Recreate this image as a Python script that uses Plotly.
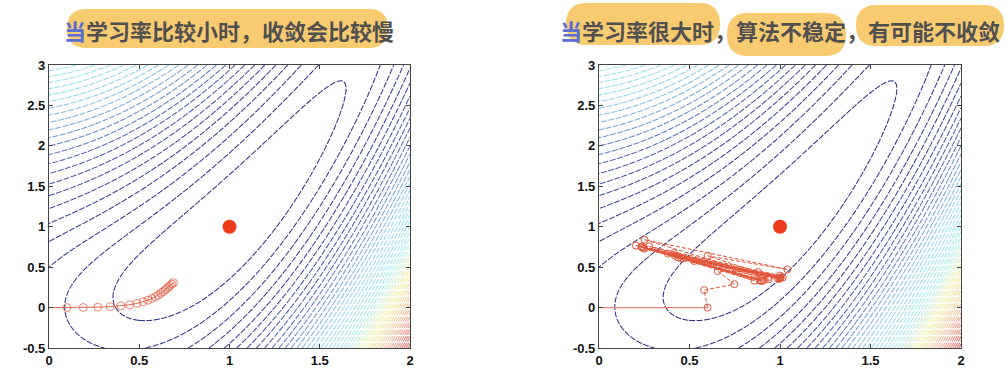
import numpy as np
import plotly.graph_objects as go

# ---------------- data ----------------
# objective f(x, y) = (A - x)^2 + B * (y - x^2)^2  (contour surface)
A_PARAM = 1.0
B_PARAM = 1.0
X_RANGE = [0.0, 2.0]
Y_RANGE = [-0.5, 3.0]
N_LEVELS = 50

minimum_x = [1.0]
minimum_y = [1.0]

# small learning rate path
slow_x = [0.0, 0.10, 0.19, 0.27, 0.339, 0.398, 0.447, 0.488, 0.521, 0.548, 0.570,
          0.589, 0.605, 0.619, 0.631, 0.643, 0.653, 0.663, 0.672, 0.681, 0.689]
slow_y = [0.0, 0.0, 0.001, 0.005, 0.011, 0.022, 0.035, 0.052, 0.071, 0.091, 0.112,
          0.133, 0.154, 0.176, 0.196, 0.217, 0.236, 0.255, 0.274, 0.292, 0.309]

# large learning rate path
fast_x = [0.0, 0.60, 0.581, 0.748, 0.656, 0.879, 0.600, 1.041, 0.252, 0.935, 0.413,
          1.015, 0.204, 0.859, 0.525, 0.999, 0.277, 0.937, 0.380, 0.990, 0.251,
          0.901, 0.438, 1.000, 0.236, 0.889, 0.467, 1.005, 0.235, 0.895, 0.455,
          1.002, 0.245, 0.910, 0.420, 0.995]
fast_y = [0.0, 0.0, 0.216, 0.289, 0.451, 0.439, 0.639, 0.472, 0.839, 0.374, 0.674,
          0.372, 0.767, 0.332, 0.576, 0.396, 0.757, 0.349, 0.666, 0.353, 0.729,
          0.329, 0.619, 0.363, 0.745, 0.332, 0.607, 0.374, 0.756, 0.335, 0.612,
          0.370, 0.740, 0.338, 0.640, 0.360]

x_ticks = [0, 0.5, 1, 1.5, 2]
x_tick_labels = ["0", "0.5", "1", "1.5", "2"]
y_ticks = [-0.5, 0, 0.5, 1, 1.5, 2, 2.5, 3]
y_tick_labels = ["-0.5", "0", "0.5", "1", "1.5", "2", "2.5", "3"]

title_left_first = "当"
title_left_rest = "学习率比较小时，收敛会比较慢"
title_right_first = "当"
title_right_rest = "学习率很大时，算法不稳定，有可能不收敛"

# ---------------- surface ----------------
gx = np.linspace(X_RANGE[0], X_RANGE[1], 401)
gy = np.linspace(Y_RANGE[0], Y_RANGE[1], 451)
XX, YY = np.meshgrid(gx, gy)
ZZ = (A_PARAM - XX) ** 2 + B_PARAM * (YY - XX ** 2) ** 2
zmin, zmax = float(ZZ.min()), float(ZZ.max())
step = (zmax - zmin) / (N_LEVELS + 1)

colorscale = [
    [0.0, "#2a2f80"],
    [0.08, "#343c8e"],
    [0.18, "#5262b0"],
    [0.27, "#78aadc"],
    [0.35, "#92d8ee"],
    [0.5, "#a0ecee"],
    [0.64, "#f4ee96"],
    [0.8, "#f3b89c"],
    [1.0, "#dc6464"],
]

W, H = 1007, 375
def px(xp):
    return xp / W
def py(yp):
    return 1 - yp / H

dom_left_x = [px(49), px(410)]
dom_right_x = [px(599), px(961)]
dom_y = [py(348), py(65)]

fig = go.Figure()

def add_panel(xa, ya, path_x, path_y, dashed):
    fig.add_trace(go.Contour(
        x=gx, y=gy, z=ZZ, xaxis=xa, yaxis=ya,
        zmin=zmin, zmax=zmax, colorscale=colorscale, showscale=False,
        contours=dict(start=zmin + step, end=zmin + N_LEVELS * step, size=step,
                      coloring="lines"),
        line=dict(width=1.05, dash="6px,1.5px"),
        hoverinfo="skip",
    ))
    if dashed:
        fig.add_trace(go.Scatter(
            x=path_x[:2], y=path_y[:2], xaxis=xa, yaxis=ya, mode="lines",
            line=dict(color="#e08878", width=1.2), showlegend=False))
        fig.add_trace(go.Scatter(
            x=path_x[1:], y=path_y[1:], xaxis=xa, yaxis=ya, mode="lines+markers",
            line=dict(color="#e2553a", width=1, dash="4px,2px"),
            marker=dict(symbol="circle-open", size=7, color="#e2553a",
                        line=dict(width=1)),
            showlegend=False))
    else:
        fig.add_trace(go.Scatter(
            x=path_x, y=path_y, xaxis=xa, yaxis=ya, mode="lines+markers",
            line=dict(color="#e2654c", width=1),
            marker=dict(symbol="circle-open", color="#e2553a",
                        size=[0] + [8] * (len(path_x) - 1), line=dict(width=1)),
            showlegend=False))
    fig.add_trace(go.Scatter(
        x=minimum_x, y=minimum_y, xaxis=xa, yaxis=ya, mode="markers",
        marker=dict(color="#ee3a1c", size=14), showlegend=False))

add_panel("x", "y", slow_x, slow_y, False)
add_panel("x2", "y2", fast_x, fast_y, True)

axis_common = dict(
    showgrid=False, zeroline=False, showline=True, linecolor="#444", linewidth=1.2,
    mirror="allticks", ticks="inside", ticklen=4, tickcolor="#444", automargin=False,
    tickfont=dict(family="Liberation Sans", size=13, color="#111", weight="bold"),
)
fig.update_layout(
    width=W, height=H, margin=dict(l=0, r=0, t=0, b=0, autoexpand=False),
    paper_bgcolor="white", plot_bgcolor="white", showlegend=False,
    xaxis=dict(domain=dom_left_x, range=X_RANGE, tickvals=x_ticks,
               ticktext=x_tick_labels, anchor="y", **axis_common),
    yaxis=dict(domain=dom_y, range=Y_RANGE, tickvals=y_ticks,
               ticktext=y_tick_labels, anchor="x", **axis_common),
    xaxis2=dict(domain=dom_right_x, range=X_RANGE, tickvals=x_ticks,
                ticktext=x_tick_labels, anchor="y2", **axis_common),
    yaxis2=dict(domain=dom_y, range=Y_RANGE, tickvals=y_ticks,
                ticktext=y_tick_labels, anchor="x2", **axis_common),
)

# highlighter blobs
def blob(x0, x1, y0, y1):
    r = (y1 - y0) / 2
    path = (f"M {px(x0 + r)} {py(y0)} L {px(x1 - r)} {py(y0)} "
            f"Q {px(x1)} {py(y0)} {px(x1)} {py(y0 + r)} "
            f"Q {px(x1)} {py(y1)} {px(x1 - r)} {py(y1)} "
            f"L {px(x0 + r)} {py(y1)} "
            f"Q {px(x0)} {py(y1)} {px(x0)} {py(y0 + r)} "
            f"Q {px(x0)} {py(y0)} {px(x0 + r)} {py(y0)} Z")
    return dict(type="path", xref="paper", yref="paper", path=path,
                fillcolor="#f8c257", opacity=0.85, line=dict(width=0), layer="above")

fig.update_layout(shapes=[
    blob(67, 388, 9, 48),
    blob(566, 720, 3, 45),
    blob(727, 846, 13, 56),
    blob(856, 1004, 5, 46),
])

title_font = dict(family="Noto Sans CJK SC", size=22, color="#505050", weight="bold")
fig.add_annotation(
    x=px(229), y=py(30), xref="paper", yref="paper", showarrow=False,
    xanchor="center", yanchor="middle", font=title_font,
    text=f"<span style='color:#5a6ed6'>{title_left_first}</span>{title_left_rest}")
fig.add_annotation(
    x=px(780), y=py(30), xref="paper", yref="paper", showarrow=False,
    xanchor="center", yanchor="middle", font=title_font,
    text=f"<span style='color:#5a6ed6'>{title_right_first}</span>{title_right_rest}")

fig.write_html("out.html", config={"displayModeBar": False},
               post_script="document.body.style.margin='0px';document.body.style.overflow='hidden';")
